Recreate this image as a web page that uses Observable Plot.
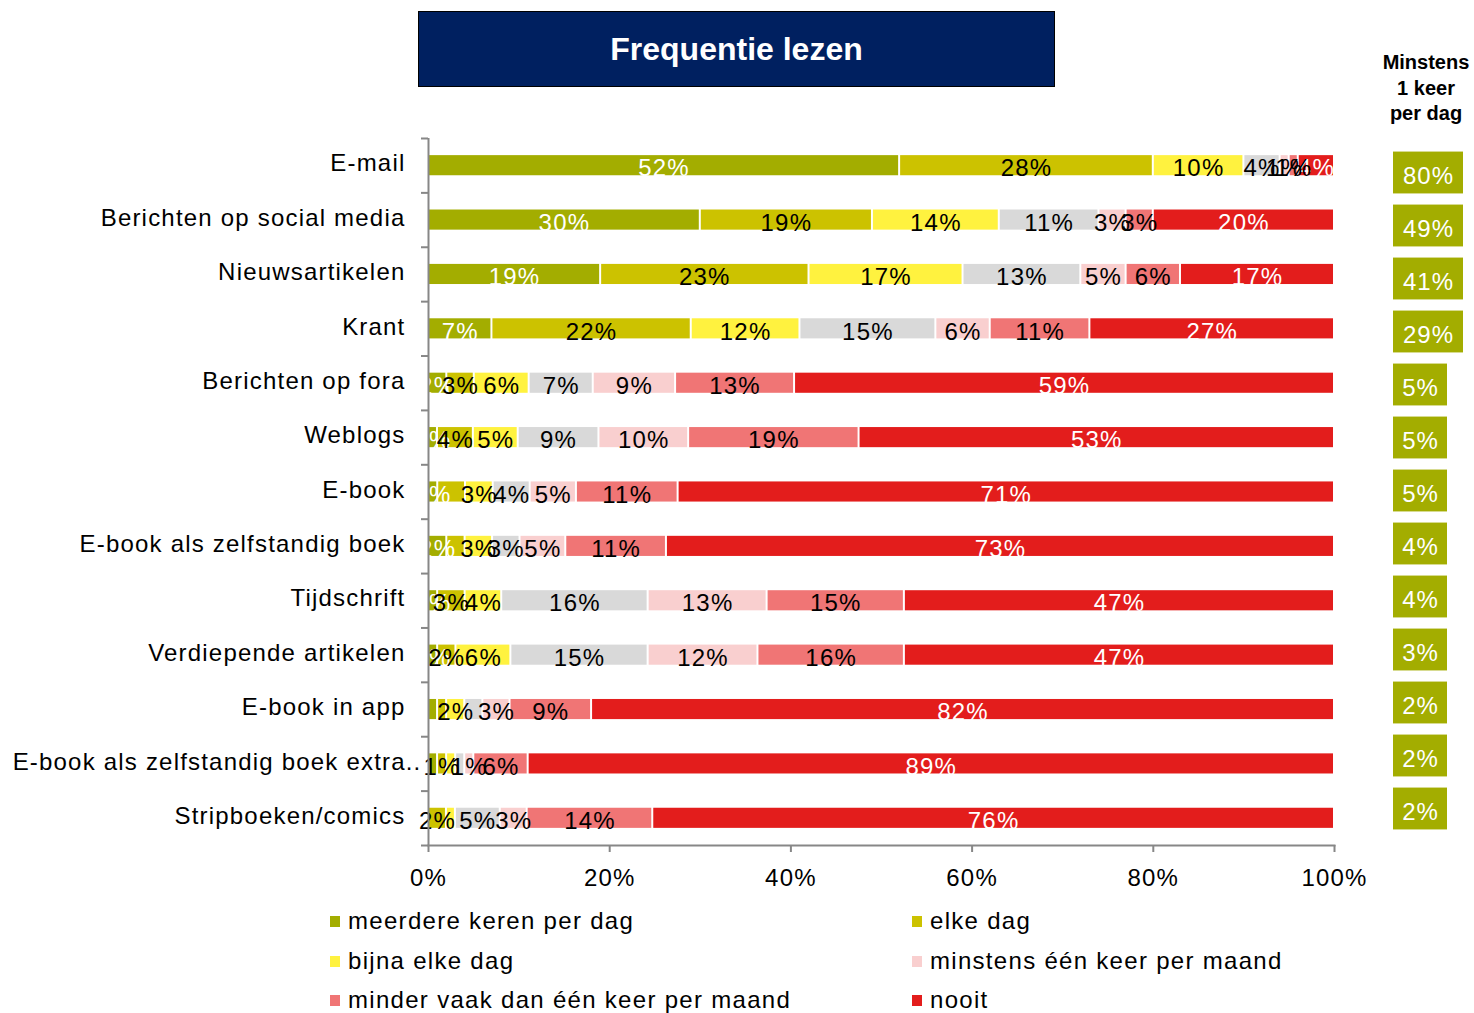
<!DOCTYPE html>
<html><head><meta charset="utf-8">
<script src="https://cdn.jsdelivr.net/npm/d3@7"></script>
<script src="https://cdn.jsdelivr.net/npm/@observablehq/plot@0.6"></script>
<style>
html,body{margin:0;padding:0;background:#fff;overflow:hidden;}
#wrap{position:relative;width:1474px;height:1013px;overflow:hidden;font-family:"Liberation Sans",Arial,sans-serif;}
#main{position:absolute;left:0;top:0;}
#title{position:absolute;left:418px;top:11px;width:635px;height:74px;background:#002060;border:1px solid #000;color:#fff;font-weight:bold;font-size:32px;display:flex;align-items:center;justify-content:center;}
#hdr{position:absolute;left:1376px;top:50px;width:100px;text-align:center;font-weight:bold;font-size:20px;line-height:25.5px;}
#right{position:absolute;left:1393px;top:0;}
#legend{position:absolute;left:330px;top:905px;width:1100px;font-size:24px;letter-spacing:1.3px;}
.li{position:absolute;display:flex;align-items:center;white-space:nowrap;height:32px;}
.sw{width:10px;height:11px;margin-right:8px;}
</style>
</head><body>
<div id="wrap">
  <div id="main"></div>
  <div id="title">Frequentie lezen</div>
  <div id="hdr">Minstens<br>1 keer<br>per dag</div>
  <div id="right"></div>
  <div id="legend"></div>
</div>
<script>
const categories = ["E-mail","Berichten op social media","Nieuwsartikelen","Krant","Berichten op fora","Weblogs","E-book","E-book als zelfstandig boek","Tijdschrift","Verdiepende artikelen","E-book in app","E-book als zelfstandig boek extra..","Stripboeken/comics"];
const series = ["meerdere keren per dag","elke dag","bijna elke dag","minstens één keer per week","minstens één keer per maand","minder vaak dan één keer per maand","nooit"];
const colors = ["#a3ad00","#ccc200","#fff23f","#d9d9d9","#f9cfcf","#f07575","#e31d1c"];
const meerdere = [52,30,19,7,2,1,1,2,1,1,1,1,0];
const elkeDag  = [28,19,23,22,3,4,3,2,3,2,1,1,2];
const bijna    = [10,14,17,12,6,5,3,3,4,6,2,1,1];
const week     = [4,11,13,15,7,9,4,3,16,15,2,1,5];
const maand    = [1,3,5,6,9,10,5,5,13,12,3,1,3];
const minder   = [1,3,6,11,13,19,11,11,15,16,9,6,14];
const nooit    = [4,20,17,27,59,53,71,73,47,47,82,89,76];
const minstens = [80,49,41,29,5,5,5,4,4,3,2,2,2];
const legendItems = ["meerdere keren per dag","elke dag","bijna elke dag","minstens één keer per maand","minder vaak dan één keer per maand","nooit"];
// labels that are not shown in the picture
const hiddenLabels = [
  ["E-book","elke dag"],
  ["E-book als zelfstandig boek","elke dag"],
  ["E-book in app","meerdere keren per dag"],["E-book in app","elke dag"],["E-book in app","minstens één keer per week"],
  ["E-book als zelfstandig boek extra..","meerdere keren per dag"],["E-book als zelfstandig boek extra..","bijna elke dag"],["E-book als zelfstandig boek extra..","minstens één keer per week"],
  ["Stripboeken/comics","bijna elke dag"]
];
const whiteLabelSeries = ["meerdere keren per dag","nooit"];
const shiftedCategory = "E-book als zelfstandig boek extra..";

const valueLists = [meerdere, elkeDag, bijna, week, maand, minder, nooit];
const data = [];
categories.forEach((c,i) => series.forEach((s,j) => data.push({cat:c, series:s, value:valueLists[j][i]})));
const isHidden = d => d.value <= 0 || hiddenLabels.some(([c,s]) => c === d.cat && s === d.series);

const grey = "#878787";
const stackOpts = {x:"value", y:"cat", z:"series", order:series, offset:"normalize"};

const main = Plot.plot({
  width:1474, height:905,
  marginLeft:428, marginRight:140, marginTop:138, marginBottom:60,
  style:{fontFamily:"Liberation Sans, Arial, sans-serif", fontSize:"24px", letterSpacing:"1.2px", background:"transparent", overflow:"visible"},
  x:{domain:[0,1], label:null},
  y:{domain:categories, paddingInner:0.63, paddingOuter:0.315, round:false, label:null},
  color:{domain:series, range:colors},
  marks:[
    Plot.barX(data, Plot.stackX({...stackOpts, fill:"series", insetLeft:1, insetRight:1})),
    Plot.text(data, Plot.stackX({...stackOpts, text:d => (!isHidden(d) && whiteLabelSeries.includes(d.series)) ? d.value+"%" : null, fill:"white", dy:3})),
    Plot.text(data, Plot.stackX({...stackOpts, text:d => (!isHidden(d) && !whiteLabelSeries.includes(d.series)) ? d.value+"%" : null, fill:"black", dy:3})),
    Plot.ruleX([0], {stroke:grey, strokeWidth:2}),
    Plot.frame({anchor:"bottom", stroke:grey, strokeWidth:2}),
    Plot.ruleY(categories, {y:d=>d, x1:-7/906, x2:0, dy:-27.2, stroke:grey, strokeWidth:2}),
    Plot.ruleY(categories.slice(-1), {y:d=>d, x1:-7/906, x2:0, dy:27.2, stroke:grey, strokeWidth:2}),
    Plot.axisY({ticks:categories.filter(c => c !== shiftedCategory), tickSize:0, tickPadding:23, fill:"black", dy:-2}),
    Plot.axisY({ticks:[shiftedCategory], tickSize:0, tickPadding:23, fill:"black", dy:-2, dx:16}),
    Plot.axisX({ticks:[0,0.2,0.4,0.6,0.8,1], tickFormat:d3.format(".0%"), tickSize:7, tickPadding:16, stroke:grey, strokeWidth:2, fill:"black"})
  ]
});
document.getElementById("main").appendChild(main);

const mData = categories.map((c,i) => ({cat:c, v:minstens[i]}));
const right = Plot.plot({
  width:80, height:850,
  marginLeft:0, marginRight:0, marginTop:146, marginBottom:15,
  style:{fontFamily:"Liberation Sans, Arial, sans-serif", fontSize:"24px", letterSpacing:"1px", background:"transparent", overflow:"visible"},
  x:{type:"identity", axis:null},
  y:{domain:categories, paddingInner:0.21, paddingOuter:0.105, round:false, axis:null},
  marks:[
    Plot.barX(mData, {x1:0, x2:d => d.v >= 10 ? 70 : 54, y:"cat", fill:"#a3ad00"}),
    Plot.text(mData, {x:d => d.v >= 10 ? 35 : 27, y:"cat", text:d => d.v+"%", fill:"white", dy:3})
  ]
});
document.getElementById("right").appendChild(right);

const leg = document.getElementById("legend");
const colX = [0, 582], rowY = [0, 40, 79];
legendItems.forEach((name,k) => {
  const el = document.createElement("div");
  el.className = "li";
  el.style.left = colX[k%2] + "px";
  el.style.top = rowY[Math.floor(k/2)] + "px";
  const sw = document.createElement("div");
  sw.className = "sw";
  sw.style.background = colors[series.indexOf(name)];
  el.appendChild(sw);
  el.appendChild(document.createTextNode(name));
  leg.appendChild(el);
});
</script>
</body></html>
